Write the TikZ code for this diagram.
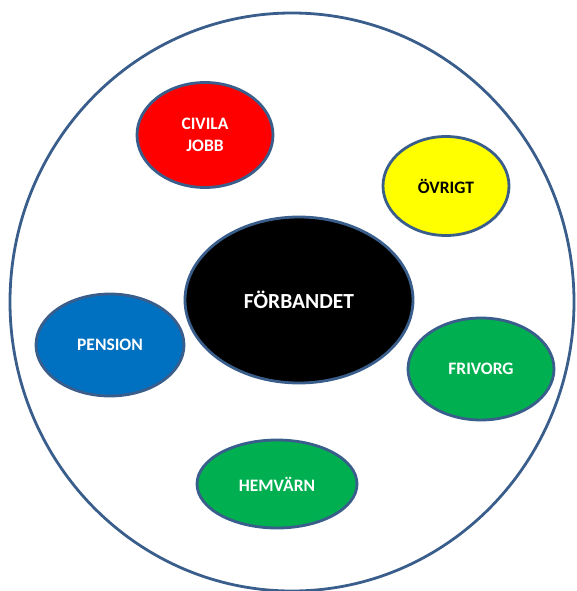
\documentclass[tikz,border=0pt]{standalone}
\usepackage{fontspec}
\setmainfont{Carlito}
\usetikzlibrary{shapes.geometric}
\definecolor{edgeblue}{HTML}{3A5E8C}
\definecolor{fillred}{HTML}{FF0000}
\definecolor{fillyellow}{HTML}{FFFF00}
\definecolor{fillblue}{HTML}{0070C0}
\definecolor{fillgreen}{HTML}{00B050}
\tikzset{
  bubble/.style={ellipse, draw=edgeblue, line width=2.8pt, inner sep=0pt,
    font=\bfseries\fontsize{17.5}{22}\selectfont, text=white, align=center},
}
\begin{document}
\begin{tikzpicture}[x=1pt,y=-1pt]
\useasboundingbox (0,0) rectangle (576,591);
\clip (0,0) rectangle (576,591);
\node[ellipse, draw=edgeblue, line width=2.8pt, minimum width=564pt, minimum height=578pt, inner sep=0pt] (outer) at (292,302) {};
\node[bubble, fill=fillred, minimum width=136pt, minimum height=105pt] (civila) at (205,135) {CIVILA\\JOBB};
\node[bubble, fill=fillyellow, text=black, minimum width=126pt, minimum height=99pt] (ovrigt) at (446,186) {ÖVRIGT};
\node[bubble, fill=black, minimum width=228pt, minimum height=166pt, font=\bfseries\fontsize{21.5}{24}\selectfont] (forbandet) at (299,300) {FÖRBANDET};
\node[bubble, fill=fillblue, minimum width=148pt, minimum height=102pt] (pension) at (110,345) {PENSION};
\node[bubble, fill=fillgreen, minimum width=146pt, minimum height=102pt] (frivorg) at (481,369) {FRIVORG};
\node[bubble, fill=fillgreen, minimum width=160pt, minimum height=88pt] (hemvarn) at (277,484) {HEMVÄRN};
\end{tikzpicture}
\end{document}
